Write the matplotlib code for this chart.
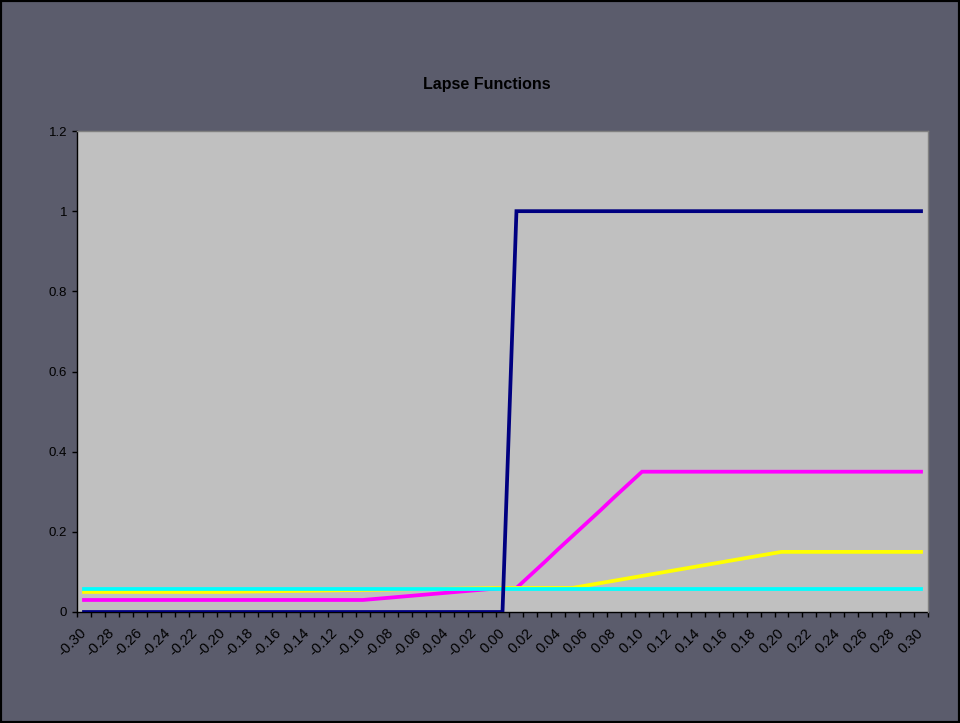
import matplotlib.pyplot as plt
from matplotlib.patches import Rectangle
from matplotlib.transforms import ScaledTranslation

plt.rcParams['font.family'] = ['Liberation Sans', 'DejaVu Sans']

# moneyness categories, step 0.01
moneyness = [-0.30, -0.29, -0.28, -0.27, -0.26, -0.25, -0.24, -0.23, -0.22, -0.21,
             -0.20, -0.19, -0.18, -0.17, -0.16, -0.15, -0.14, -0.13, -0.12, -0.11,
             -0.10, -0.09, -0.08, -0.07, -0.06, -0.05, -0.04, -0.03, -0.02, -0.01,
             0.00, 0.01, 0.02, 0.03, 0.04, 0.05, 0.06, 0.07, 0.08, 0.09,
             0.10, 0.11, 0.12, 0.13, 0.14, 0.15, 0.16, 0.17, 0.18, 0.19,
             0.20, 0.21, 0.22, 0.23, 0.24, 0.25, 0.26, 0.27, 0.28, 0.29, 0.30]

navy = [0, 0, 0, 0, 0, 0, 0, 0, 0, 0,
        0, 0, 0, 0, 0, 0, 0, 0, 0, 0,
        0, 0, 0, 0, 0, 0, 0, 0, 0, 0,
        0, 1, 1, 1, 1, 1, 1, 1, 1, 1,
        1, 1, 1, 1, 1, 1, 1, 1, 1, 1,
        1, 1, 1, 1, 1, 1, 1, 1, 1, 1, 1]

magenta = [0.03, 0.03, 0.03, 0.03, 0.03, 0.03, 0.03, 0.03, 0.03, 0.03,
           0.03, 0.03, 0.03, 0.03, 0.03, 0.03, 0.03, 0.03, 0.03, 0.03,
           0.03, 0.033, 0.036, 0.039, 0.042, 0.045, 0.048, 0.051, 0.054, 0.057,
           0.06, 0.06, 0.092, 0.124, 0.157, 0.189, 0.221, 0.253, 0.286, 0.318,
           0.35, 0.35, 0.35, 0.35, 0.35, 0.35, 0.35, 0.35, 0.35, 0.35,
           0.35, 0.35, 0.35, 0.35, 0.35, 0.35, 0.35, 0.35, 0.35, 0.35, 0.35]

yellow = [0.05, 0.05, 0.05, 0.05, 0.05, 0.05, 0.05, 0.05, 0.05, 0.05,
          0.05, 0.0505, 0.051, 0.0515, 0.052, 0.0525, 0.053, 0.0535, 0.054, 0.0545,
          0.055, 0.0555, 0.056, 0.0565, 0.057, 0.0575, 0.058, 0.0585, 0.059, 0.0595,
          0.06, 0.06, 0.06, 0.06, 0.06, 0.06, 0.066, 0.072, 0.078, 0.084,
          0.09, 0.096, 0.102, 0.108, 0.114, 0.12, 0.126, 0.132, 0.138, 0.144,
          0.15, 0.15, 0.15, 0.15, 0.15, 0.15, 0.15, 0.15, 0.15, 0.15, 0.15]

cyan = [0.058, 0.058, 0.058, 0.058, 0.058, 0.058, 0.058, 0.058, 0.058, 0.058,
        0.058, 0.058, 0.058, 0.058, 0.058, 0.058, 0.058, 0.058, 0.058, 0.058,
        0.058, 0.058, 0.058, 0.058, 0.058, 0.058, 0.058, 0.058, 0.058, 0.058,
        0.058, 0.058, 0.058, 0.058, 0.058, 0.058, 0.058, 0.058, 0.058, 0.058,
        0.058, 0.058, 0.058, 0.058, 0.058, 0.058, 0.058, 0.058, 0.058, 0.058,
        0.058, 0.058, 0.058, 0.058, 0.058, 0.058, 0.058, 0.058, 0.058, 0.058, 0.058]

y_ticks = [0, 0.2, 0.4, 0.6, 0.8, 1, 1.2]
y_labels = ['0', '0.2', '0.4', '0.6', '0.8', '1', '1.2']

bg = '#5b5c6c'
fig = plt.figure(figsize=(9.6, 7.23), dpi=100, facecolor=bg)
fig.patches.append(Rectangle((0, 0), 1, 1, transform=fig.transFigure, fill=False,
                             edgecolor='black', linewidth=3))

ax = fig.add_axes([77/960, 1 - 612/723, 851/960, 481/723])
ax.set_facecolor('#c0c0c0')

pos = list(range(len(moneyness)))
ax.plot(pos, magenta, color='#ff00ff', lw=2.7, zorder=2, solid_joinstyle='miter')
ax.plot(pos, yellow, color='#ffff00', lw=2.7, zorder=3, solid_joinstyle='miter')
ax.plot(pos, cyan, color='#00ffff', lw=2.7, zorder=4)
ax.plot(pos, navy, color='#000080', lw=2.7, zorder=5, solid_joinstyle='miter')

ax.set_xlim(-0.5, len(moneyness) - 0.5)
ax.set_ylim(0, 1.2)

# category labels every second point, tick marks between categories
ax.set_xticks(pos[::2])
ax.set_xticklabels(['%.2f' % m for m in moneyness[::2]], rotation=45, ha='right',
                   va='center', rotation_mode='anchor', fontsize=10.5)
shift = ScaledTranslation(-0.11, 0, fig.dpi_scale_trans)
for lab in ax.get_xticklabels():
    lab.set_transform(lab.get_transform() + shift)
ax.set_xticks([p - 0.5 for p in pos] + [pos[-1] + 0.5], minor=True)
ax.tick_params(axis='x', which='major', length=0, pad=13.5)
ax.tick_params(axis='x', which='minor', length=3.5, width=1, direction='out', color='black')

ax.set_yticks(y_ticks)
ax.set_yticklabels(y_labels, fontsize=9.5)
ax.tick_params(axis='y', length=3.5, width=1, direction='out', color='black', pad=3.5)

for side in ['top', 'right']:
    ax.spines[side].set_color('#808080')
    ax.spines[side].set_linewidth(1)
for side in ['left', 'bottom']:
    ax.spines[side].set_color('black')
    ax.spines[side].set_linewidth(1)
    ax.spines[side].set_zorder(1)

fig.text(487/960, 1 - 84/723, 'Lapse Functions', ha='center', va='center',
         fontsize=11.5, fontweight='bold', color='black')

fig.savefig('out.png', dpi=100, facecolor=bg)
